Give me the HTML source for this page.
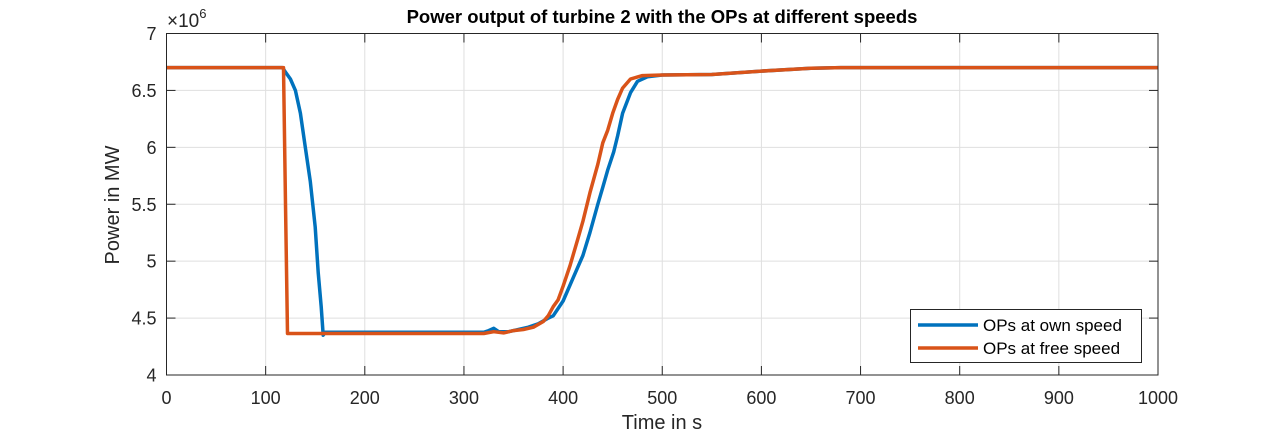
<!DOCTYPE html>
<html><head><meta charset="utf-8"><style>
html,body{margin:0;padding:0;background:#fff;}
svg{display:block;font-family:"Liberation Sans",Helvetica,Arial,sans-serif;}
</style></head><body>
<svg id="chart" width="1278" height="436" viewBox="0 0 1278 436" xmlns="http://www.w3.org/2000/svg">
<rect x="0" y="0" width="1278" height="436" fill="#fff"/>
<g id="grid"></g>
<g id="series"></g>
<rect x="166.5" y="33.5" width="991.5" height="341.5" fill="none" stroke="#262626" stroke-width="1"/>
<g id="ticks"></g>
<text x="662" y="23" text-anchor="middle" font-size="18.5" font-weight="bold" fill="#000">Power output of turbine 2 with the OPs at different speeds</text>
<text x="662" y="429" text-anchor="middle" font-size="20" fill="#262626">Time in s</text>
<text transform="translate(119,205) rotate(-90)" text-anchor="middle" font-size="20" fill="#262626">Power in MW</text>
<text x="167" y="27" font-size="19" fill="#262626">×10<tspan dy="-9" font-size="13">6</tspan></text>
<g>
<rect x="910.5" y="309.5" width="231" height="53" fill="#fff" stroke="#262626" stroke-width="1"/>
<line x1="918" y1="325" x2="978" y2="325" stroke="#0072BD" stroke-width="3.5"/>
<text x="983" y="331" font-size="17" fill="#000">OPs at own speed</text>
<line x1="918" y1="348" x2="978" y2="348" stroke="#D95319" stroke-width="3.5"/>
<text x="983" y="354" font-size="17" fill="#000">OPs at free speed</text>
</g>
</svg>
<script>
const xTicks=[0,100,200,300,400,500,600,700,800,900,1000];
const yTicks=[4,4.5,5,5.5,6,6.5,7];
const yTickLabels=["4","4.5","5","5.5","6","6.5","7"];
const ownT=[0,117,120,125,130,135,140,145,150,153,156,158,160,320,325,330,335,345,355,365,375,385,390,400,410,420,427,435,440,445,451,455,460,468,475,485,500,550,600,650,680,1000];
const ownV=[6.7,6.7,6.66,6.6,6.5,6.3,6.0,5.7,5.3,4.9,4.6,4.35,4.375,4.375,4.39,4.41,4.38,4.38,4.40,4.42,4.45,4.5,4.52,4.65,4.85,5.05,5.25,5.5,5.65,5.8,5.96,6.1,6.3,6.48,6.58,6.62,6.635,6.64,6.67,6.695,6.7,6.7];
const freeT=[0,118,120,122,320,330,340,350,360,370,380,385,390,395,400,407,415,420,427,435,440,445,450,455,460,468,480,500,550,600,650,680,1000];
const freeV=[6.7,6.7,5.5,4.365,4.365,4.38,4.37,4.39,4.40,4.42,4.47,4.52,4.6,4.66,4.78,4.96,5.2,5.35,5.6,5.85,6.04,6.15,6.3,6.42,6.52,6.6,6.63,6.635,6.64,6.67,6.695,6.7,6.7];
const X0=166.5,X1=1158,Y0=375,Y1=33.5;
function xs(t){return X0+(t-0)/(1000-0)*(X1-X0);}
function ys(v){return Y0-(v-4)/(7-4)*(Y0-Y1);}
const NS="http://www.w3.org/2000/svg";
const grid=document.getElementById('grid'),ticks=document.getElementById('ticks'),series=document.getElementById('series');
function mk(tag,attrs,parent){const e=document.createElementNS(NS,tag);for(const k in attrs)e.setAttribute(k,attrs[k]);parent.appendChild(e);return e;}
xTicks.forEach(t=>{
  const x=xs(t);
  const g=mk('line',{x1:x,y1:Y1,x2:x,y2:Y0,stroke:'#dfdfdf','stroke-width':1},grid);
  
  
  const tk=mk('line',{x1:x,y1:Y0,x2:x,y2:Y0-9,stroke:'#262626','stroke-width':1},ticks);
  
  
  const tk2=mk('line',{x1:x,y1:Y1,x2:x,y2:Y1+9,stroke:'#262626','stroke-width':1},ticks);
  
  
  const lb=mk('text',{x:x,y:Y0+29,'text-anchor':'middle','font-size':18,fill:'#262626'},ticks);
  lb.textContent=String(t);
  
  
});
yTicks.forEach((v,i)=>{
  const y=ys(v);
  const g=mk('line',{x1:X0,y1:y,x2:X1,y2:y,stroke:'#dfdfdf','stroke-width':1},grid);
  
  
  const tk=mk('line',{x1:X0,y1:y,x2:X0+9,y2:y,stroke:'#262626','stroke-width':1},ticks);
  
  
  const tk2=mk('line',{x1:X1,y1:y,x2:X1-9,y2:y,stroke:'#262626','stroke-width':1},ticks);
  
  
  const lb=mk('text',{x:X0-10,y:y+6.5,'text-anchor':'end','font-size':18,fill:'#262626'},ticks);
  lb.textContent=yTickLabels[i];
  
  
});
function path(T,V){return T.map((t,i)=>(i?'L':'M')+xs(t).toFixed(1)+','+ys(V[i]).toFixed(1)).join(' ');}
const pOwn=mk('path',{d:path(ownT,ownV),fill:'none',stroke:'#0072BD','stroke-width':3.5,'stroke-linejoin':'round'},series);


const pFree=mk('path',{d:path(freeT,freeV),fill:'none',stroke:'#D95319','stroke-width':3.5,'stroke-linejoin':'round'},series);


</script>
</body></html>
